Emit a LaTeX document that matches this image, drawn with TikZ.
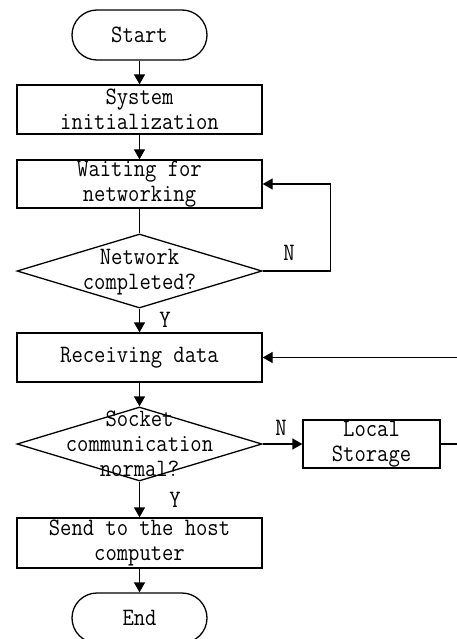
\documentclass[tikz,border=0pt]{standalone}
\usepackage{fontspec}
\setmonofont[FakeStretch=0.88]{Latin Modern Mono}
\usetikzlibrary{shapes.geometric,arrows.meta}
\tikzset{
  base/.style={draw, line width=1.3pt, font=\ttfamily\fontsize{25}{25}\selectfont, align=center, inner sep=0pt},
  proc/.style={base, rectangle, minimum width=245pt},
  term/.style={base, rectangle, rounded corners=25pt, minimum width=135pt, minimum height=50pt},
  decision/.style={base, diamond, minimum width=245pt, minimum height=74pt},
  txt/.style={font=\ttfamily\fontsize{25}{25}\selectfont, align=center, inner sep=0pt},
  flow/.style={line width=1.3pt, -{Triangle[length=10pt,width=11pt]}},
  link/.style={line width=1.3pt}
}
\begin{document}
\begin{tikzpicture}[x=1pt,y=-1pt]
  \useasboundingbox (0,0) rectangle (457,639);
  \clip (0,0) rectangle (457,639);

  % main column
  \node[term] (start) at (139.5,35) {Start};
  \node[proc, minimum height=49pt] (init) at (139.5,109.5) {System\\initialization};
  \node[proc, minimum height=48pt] (wait) at (139.5,184) {Waiting for\\networking};
  \node[decision] (net) at (139.5,271) {};
  \node[txt] (netT) at (139.5,272) {Network\\completed?};
  \node[proc, minimum height=49pt] (recv) at (139.5,357.5) {Receiving data};
  \node[decision] (sock) at (139.5,444) {};
  \node[txt] (sockT) at (139.5,444) {Socket\\communication\\normal?};
  \node[proc, minimum width=137pt, minimum height=48pt] (local) at (371.5,444) {Local\\Storage};
  \node[proc, minimum height=50pt] (send) at (139.5,543) {Send to the host\\computer};
  \node[term] (end) at (139.5,618) {End};

  % branch labels
  \node[txt] (y1) at (165,320) {Y};
  \node[txt] (n1) at (289,253) {N};
  \node[txt] (n2) at (281,428) {N};
  \node[txt] (y2) at (175,500) {Y};

  % connectors
  \draw[flow] (start) -- (init);
  \draw[flow] (init) -- (wait);
  \draw[link] (wait) -- (net.north);
  \draw[flow] (net.south) -- (recv);
  \draw[flow] (net.east) -- ++(68,0) |- (wait.east);
  \draw[flow] (recv) -- (sock.north);
  \draw[flow] (sock.east) -- (local.west);
  \draw[flow] (sock.south) -- (send);
  \draw[flow] (local.east) -- ++(30,0) |- (recv.east);
  \draw[flow] (send) -- (end);
\end{tikzpicture}
\end{document}
